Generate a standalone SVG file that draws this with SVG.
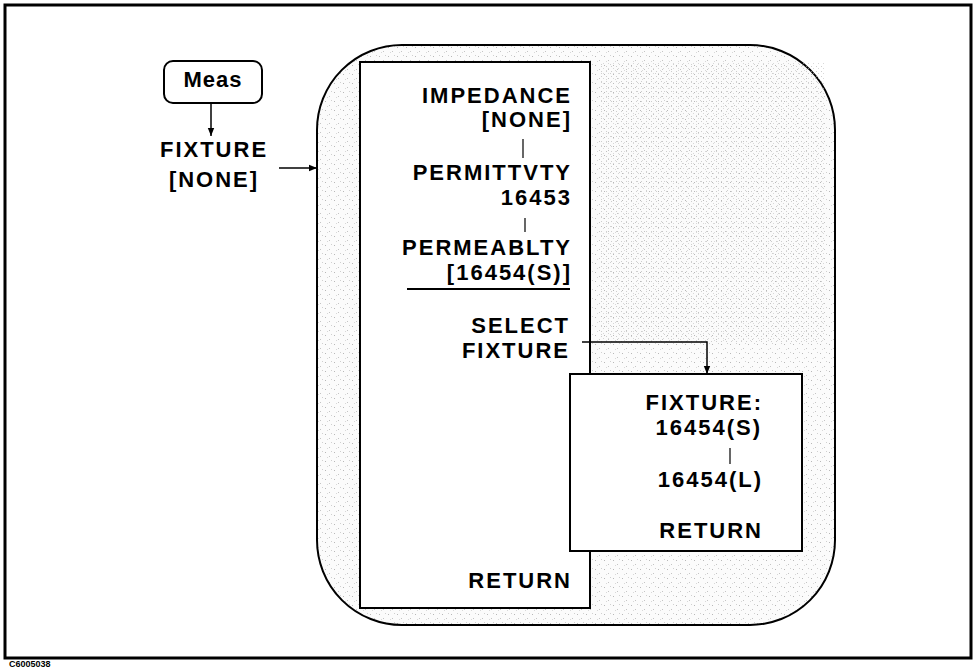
<svg xmlns="http://www.w3.org/2000/svg" width="975" height="670" viewBox="0 0 975 670">
<style>
text{font-family:"Liberation Sans",Arial,sans-serif;font-weight:bold;font-size:22px;letter-spacing:2px;fill:#000}
.r{text-anchor:end}
.c{text-anchor:middle}
.box{fill:#fff;stroke:#000;stroke-width:2}
.ln{fill:none;stroke:#000;stroke-width:1.5}
.tick{stroke:#000;stroke-width:1.2}
</style>
<defs>
<marker id="ah" viewBox="0 0 8 8" refX="8" refY="4" markerWidth="8" markerHeight="8" markerUnits="userSpaceOnUse" orient="auto">
<path d="M0,0.8 L8,4 L0,7.2 Z" fill="#000"/>
</marker>
<pattern id="stip" width="9" height="9" patternUnits="userSpaceOnUse">
<rect width="9" height="9" fill="#fbfbfb"/>
<rect x="1" y="2" width="1" height="1" fill="#b8b8b8"/>
<rect x="5" y="6" width="1" height="1" fill="#c4c4c4"/>
<rect x="7" y="1" width="1" height="1" fill="#d0d0d0"/>
<rect x="3" y="7" width="1" height="1" fill="#d8d8d8"/>
</pattern>
<pattern id="stip2" width="5" height="5" patternUnits="userSpaceOnUse">
<rect x="1" y="1" width="1" height="1" fill="#b0b0b0"/>
<rect x="3" y="3" width="1" height="1" fill="#c0c0c0"/>
</pattern>
</defs>

<rect id="frame" x="5" y="5" width="966" height="653" fill="none" stroke="#000" stroke-width="3"/>
<text x="9" y="667" style="font-size:9px;letter-spacing:0">C6005038</text>

<g id="fixture-menu-area">
<rect x="317" y="45" width="518" height="580" rx="85" ry="85" fill="url(#stip)" stroke="#000" stroke-width="2"/>
<rect x="600" y="62" width="225" height="280" fill="url(#stip2)" opacity="0.6"/>
</g>

<g id="meas-key">
<rect x="164" y="61" width="98" height="42" rx="9" ry="9" class="box" stroke-width="1.5"/>
<text x="213" y="87" class="c" style="letter-spacing:1px">Meas</text>
</g>

<g id="fixture-softkey">
<text x="214" y="157" class="c">FIXTURE</text>
<text x="214" y="187" class="c">[NONE]</text>
</g>

<g id="fixture-menu">
<rect x="360" y="62" width="230" height="546" class="box"/>
<text x="572" y="103" class="r">IMPEDANCE</text>
<text x="572" y="127" class="r">[NONE]</text>
<text x="572" y="180" class="r">PERMITTVTY</text>
<text x="572" y="205" class="r">16453</text>
<text x="572" y="255" class="r">PERMEABLTY</text>
<text x="572" y="280" class="r">[16454(S)]</text>
<line x1="407" y1="289" x2="570" y2="289" stroke="#000" stroke-width="2"/>
<text x="570" y="333" class="r">SELECT</text>
<text x="570" y="358" class="r">FIXTURE</text>
<text x="572" y="588" class="r">RETURN</text>
</g>

<g id="select-fixture-menu">
<rect x="570" y="374" width="232" height="177" class="box"/>
<text x="763" y="410" class="r">FIXTURE:</text>
<text x="762" y="435" class="r">16454(S)</text>
<text x="763" y="487" class="r">16454(L)</text>
<text x="763" y="538" class="r">RETURN</text>
</g>

<g id="connectors">
<line x1="211" y1="103" x2="211" y2="136" class="ln" marker-end="url(#ah)"/>
<line x1="279" y1="168" x2="317" y2="168" class="ln" marker-end="url(#ah)"/>
<polyline points="582,342 707,342 707,374" class="ln" marker-end="url(#ah)"/>
<line x1="523" y1="139" x2="523" y2="158" class="tick"/>
<line x1="525" y1="218" x2="525" y2="232" class="tick"/>
<line x1="730" y1="448" x2="730" y2="464" class="tick"/>
</g>
</svg>
